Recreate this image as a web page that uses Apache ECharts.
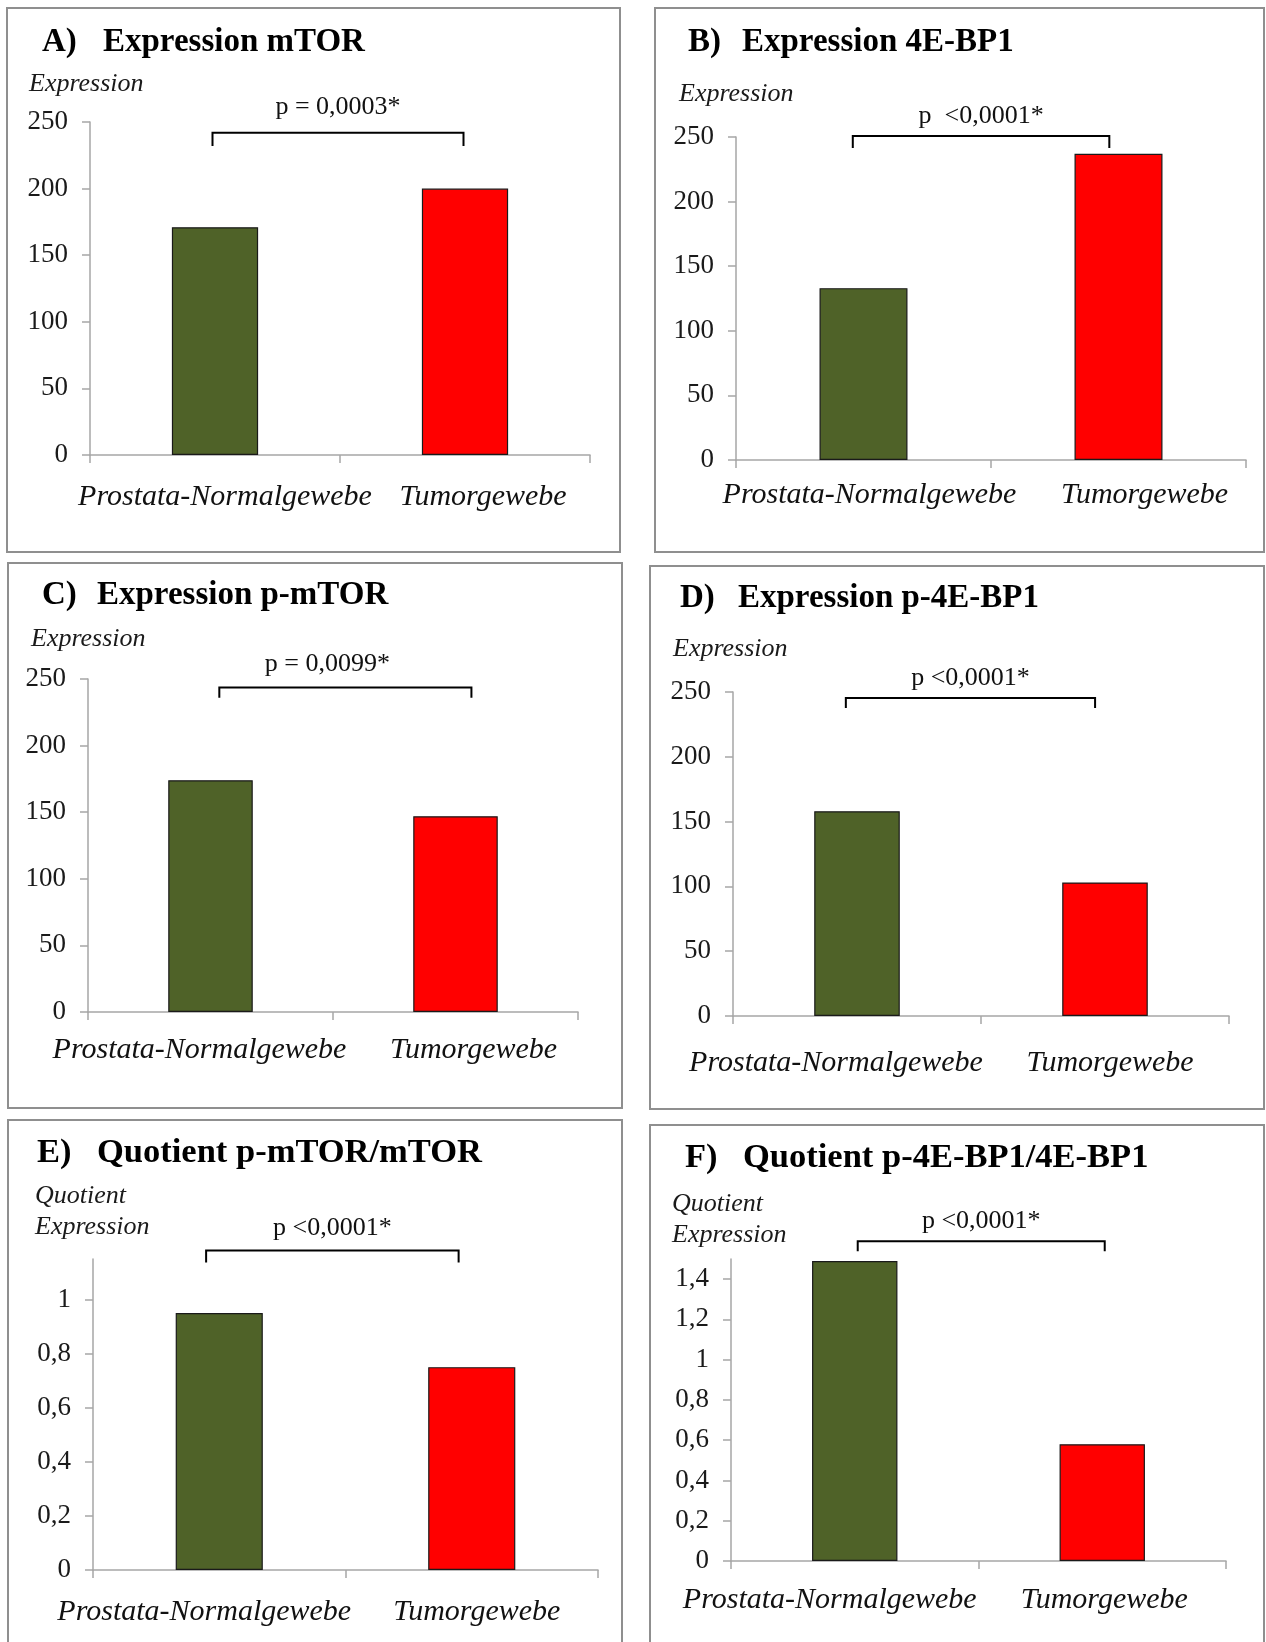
<!DOCTYPE html>
<html>
<head>
<meta charset="utf-8">
<script src="https://cdn.jsdelivr.net/npm/echarts@6/dist/echarts.min.js"></script>
<style>
html,body{margin:0;padding:0;background:#fff;}
#chart{width:1266px;height:1642px;}
</style>
</head>
<body>
<div id="chart"></div>
<script>
// ---------- DATA ----------
const categories = ['Prostata-Normalgewebe', 'Tumorgewebe'];
const panelLetters = ['A)', 'B)', 'C)', 'D)', 'E)', 'F)'];
const panelTitles = ['Expression mTOR', 'Expression 4E-BP1', 'Expression p-mTOR',
  'Expression p-4E-BP1', 'Quotient p-mTOR/mTOR', 'Quotient p-4E-BP1/4E-BP1'];
const yAxisNames = [['Expression'], ['Expression'], ['Expression'], ['Expression'],
  ['Quotient', 'Expression'], ['Quotient', 'Expression']];

const valuesMTOR = [171, 200];
const values4EBP1 = [133, 237];
const valuesPMTOR = [174, 147];
const valuesP4EBP1 = [158, 103];
const quotientMTOR = [0.95, 0.75];
const quotient4EBP1 = [1.49, 0.58];
const panelValues = [valuesMTOR, values4EBP1, valuesPMTOR, valuesP4EBP1, quotientMTOR, quotient4EBP1];

const ticksExpression = [0, 50, 100, 150, 200, 250];
const ticksQuotientE = [0, 0.2, 0.4, 0.6, 0.8, 1];
const ticksQuotientF = [0, 0.2, 0.4, 0.6, 0.8, 1, 1.2, 1.4];
const panelTicks = [ticksExpression, ticksExpression, ticksExpression, ticksExpression, ticksQuotientE, ticksQuotientF];
const yMax = [250, 250, 250, 250, 1.15, 1.5];

const pTexts = ['p = 0,0003*', 'p  <0,0001*', 'p = 0,0099*', 'p <0,0001*', 'p <0,0001*', 'p <0,0001*'];
const bracketTop = [242, 250.8, 243.6, 245.4, 1.181, 1.588];
const bracketFoot = [232, 241.5, 236, 237.7, 1.137, 1.538];

// ---------- LAYOUT / STYLE ----------
const barColors = ['#4F6228', '#FF0000'];
const SERIF = '"Liberation Serif", "Times New Roman", serif';
const layout = [
  { box: [7, 8, 620, 552], grid: { left: 90, top: 122, width: 500, height: 333 }, letter: [42, 42], title: [103, 42], tSize: 33,
    yname: [29, 84], catMargin: 27, catOff: [10, 18], brOff: [-0.01, -0.006], pDx: 0, pDy: -25 },
  { box: [655, 8, 1264, 552], grid: { left: 736, top: 137, width: 510, height: 323 }, letter: [688, 42], title: [742, 42], tSize: 33,
    yname: [679, 94], catMargin: 20, catOff: [6, 26], brOff: [-0.042, -0.036], pDx: 0, pDy: -20 },
  { box: [8, 563, 622, 1108], grid: { left: 88, top: 679, width: 490, height: 333 }, letter: [42, 595], title: [97, 595], tSize: 33,
    yname: [31, 639], catMargin: 23, catOff: [-11, 18], brOff: [0.036, 0.065], pDx: -18, pDy: -23 },
  { box: [650, 566, 1264, 1109], grid: { left: 733, top: 692, width: 496, height: 324 }, letter: [680, 598], title: [738, 598], tSize: 33,
    yname: [673, 649], catMargin: 32, catOff: [-21, 5], brOff: [-0.045, -0.04], pDx: 0, pDy: -20 },
  { box: [8, 1120, 622, 1660], grid: { left: 93, top: 1259, width: 505, height: 311 }, letter: [37, 1153], title: [97, 1153], tSize: 34.5,
    yname: [35, 1196], catMargin: 27, catOff: [-15, 5], brOff: [-0.052, -0.052], pDx: 0, pDy: -22 },
  { box: [650, 1125, 1264, 1660], grid: { left: 731, top: 1259, width: 495, height: 302 }, letter: [685, 1158], title: [743, 1158], tSize: 34.5,
    yname: [672, 1204], catMargin: 24, catOff: [-25, 2], brOff: [0.012, 0.01], pDx: 0, pDy: -20 }
];

function fmt(v) { return String(v).replace('.', ','); }

const chart = echarts.init(document.getElementById('chart'), null, { renderer: 'canvas' });

const grids = [], xAxes = [], yAxes = [], series = [], graphics = [];

layout.forEach((L, i) => {
  grids.push(Object.assign({ containLabel: false }, L.grid));
  const rich = {};
  L.catOff.forEach((off, k) => {
    rich['c' + k] = {
      fontFamily: SERIF, fontStyle: 'italic', fontSize: 30, color: '#111', lineHeight: 30,
      padding: off >= 0 ? [0, 0, 0, 2 * off] : [0, -2 * off, 0, 0]
    };
  });
  xAxes.push({
    type: 'category', gridIndex: i, data: categories,
    axisLine: { lineStyle: { color: '#a6a6a6', width: 1.5 } },
    axisTick: { show: true, length: 8, lineStyle: { color: '#a6a6a6', width: 1.5 } },
    axisLabel: { interval: 0, margin: L.catMargin, formatter: (v, idx) => '{c' + idx + '|' + v + '}', rich: rich },
    splitLine: { show: false }
  });
  yAxes.push({
    type: 'value', gridIndex: i, min: 0, max: yMax[i],
    axisLine: { show: true, lineStyle: { color: '#a6a6a6', width: 1.5 } },
    axisTick: { show: true, length: 8, lineStyle: { color: '#a6a6a6', width: 1.5 }, customValues: panelTicks[i] },
    axisLabel: { customValues: panelTicks[i], formatter: fmt, fontFamily: SERIF, fontSize: 27, color: '#1a1a1a', margin: 22 },
    splitLine: { show: false }
  });
  series.push({
    type: 'bar', xAxisIndex: i, yAxisIndex: i, barWidth: '34.5%',
    data: panelValues[i].map((v, k) => ({ value: v, itemStyle: { color: barColors[k] } })),
    itemStyle: { borderColor: '#1a1a1a', borderWidth: 1.2 },
    silent: true, animation: false
  });
  series.push({
    type: 'custom', xAxisIndex: i, yAxisIndex: i, clip: false, silent: true, animation: false,
    data: [[0, bracketTop[i], bracketFoot[i]]],
    encode: { x: 0, y: 1 },
    renderItem: (params, api) => {
      const top = api.value(1), foot = api.value(2);
      const c0 = api.coord([0, top]);
      const c1 = api.coord([1, top]);
      const step = c1[0] - c0[0];
      const x0 = c0[0] + L.brOff[0] * step;
      const x1 = c1[0] + L.brOff[1] * step;
      const yT = c0[1];
      const yF = api.coord([0, foot])[1];
      return {
        type: 'group',
        children: [
          { type: 'polyline', shape: { points: [[x0, yF], [x0, yT], [x1, yT], [x1, yF]] },
            style: { stroke: '#000', lineWidth: 2, fill: null } },
          { type: 'text', style: { text: pTexts[i], x: (x0 + x1) / 2 + L.pDx, y: yT + L.pDy,
            align: 'center', verticalAlign: 'middle', font: '26px ' + SERIF, fill: '#111' } }
        ]
      };
    }
  });
  // frame
  graphics.push({ type: 'rect', silent: true, z: -1,
    shape: { x: L.box[0], y: L.box[1], width: L.box[2] - L.box[0], height: L.box[3] - L.box[1] },
    style: { fill: null, stroke: '#8f8f8f', lineWidth: 2 } });
  // title
  graphics.push({ type: 'text', silent: true, x: L.letter[0], y: L.letter[1],
    style: { text: panelLetters[i], font: 'bold ' + L.tSize + 'px ' + SERIF, fill: '#000', verticalAlign: 'middle' } });
  graphics.push({ type: 'text', silent: true, x: L.title[0], y: L.title[1],
    style: { text: panelTitles[i], font: 'bold ' + L.tSize + 'px ' + SERIF, fill: '#000', verticalAlign: 'middle' } });
  // y-axis name lines
  yAxisNames[i].forEach((t, k) => {
    graphics.push({ type: 'text', silent: true, x: L.yname[0], y: L.yname[1] + k * 31,
      style: { text: t, font: 'italic 26px ' + SERIF, fill: '#1a1a1a', verticalAlign: 'middle' } });
  });
});

chart.setOption({
  animation: false,
  backgroundColor: '#ffffff',
  grid: grids,
  xAxis: xAxes,
  yAxis: yAxes,
  series: series,
  graphic: { elements: graphics }
});
</script>
</body>
</html>
